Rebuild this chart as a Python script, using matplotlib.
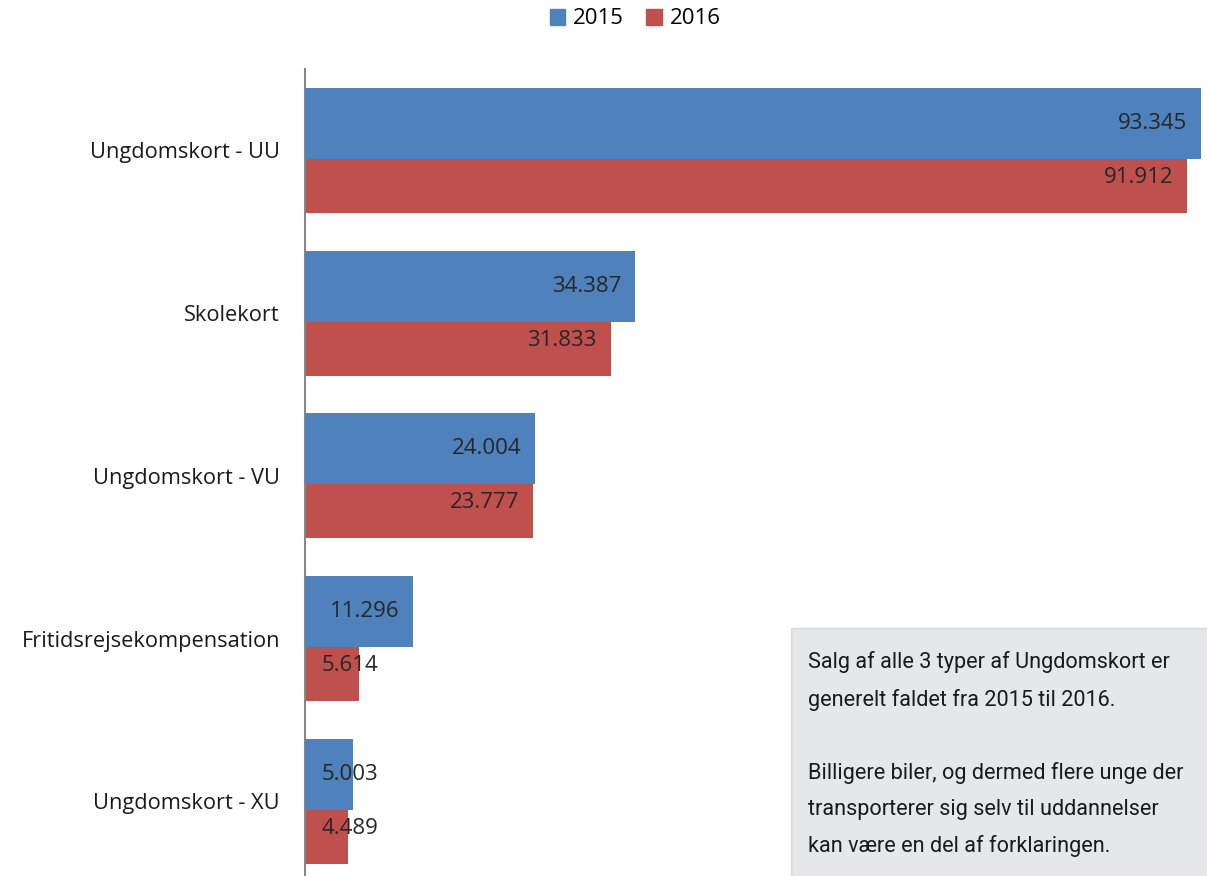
import matplotlib.pyplot as plt
from matplotlib.patches import Rectangle, Patch
import numpy as np

kategorier = ['Ungdomskort - UU', 'Skolekort', 'Ungdomskort - VU',
              'Fritidsrejsekompensation', 'Ungdomskort - XU']
salg_2015 = [93345, 34387, 24004, 11296, 5003]
salg_2016 = [91912, 31833, 23777, 5614, 4489]
aar = ['2015', '2016']

blaa = '#4F81BD'
roed = '#C0504D'
plt.rcParams['font.family'] = ['Open Sans', 'DejaVu Sans']

fig = plt.figure(figsize=(12.07, 8.76), dpi=100)
ax = fig.add_axes([305/1207, -0.0076, 902/1207, 0.9288])

y = np.arange(len(kategorier))
h = 0.436
d = 0.166
ax.barh(y + d, salg_2016, height=h, color=roed, zorder=2)
ax.barh(y - d, salg_2015, height=h, color=blaa, zorder=3)

xmax = 93345 * 902 / 896
ax.set_xlim(0, xmax)
ax.set_ylim(len(kategorier) - 0.5, -0.5)

# etiketter ved enden af søjlerne
px = xmax / 902
for i in range(len(kategorier)):
    for v, off in ((salg_2015[i], -d), (salg_2016[i], d)):
        tekst = f'{v:,}'.replace(',', '.')
        x = max(v - 14 * px, 73 * px)
        ax.text(x, i + off, tekst, ha='right', va='center', fontsize=16,
                color='#262626', zorder=4)

ax.set_yticks(y)
ax.set_yticklabels(kategorier, fontsize=15.7, color='#1a1a1a')
ax.tick_params(axis='y', length=0, pad=18)
ax.set_xticks([])
for s in ['top', 'right', 'bottom']:
    ax.spines[s].set_visible(False)
ax.spines['left'].set_color('#868686')
ax.spines['left'].set_linewidth(1.5)

fig.legend(handles=[Patch(color=blaa, label=aar[0]), Patch(color=roed, label=aar[1])],
           loc='center', bbox_to_anchor=(635/1207, 1 - 19/876), ncol=2, frameon=False,
           fontsize=16, handlelength=0.7, handleheight=0.7, columnspacing=1.0,
           handletextpad=0.35)

# tekstboks nederst til højre
fig.patches.append(Rectangle((791/1207, 0), 420/1207, 1 - 628/876,
                             transform=fig.transFigure, color='#dcdddf', zorder=5))
fig.patches.append(Rectangle((793/1207, 0), 420/1207, 1 - 630/876,
                             transform=fig.transFigure, color='#e6e7e8', zorder=6))
linjer = ['Salg af alle 3 typer af Ungdomskort er',
          'generelt faldet fra 2015 til 2016.',
          '',
          'Billigere biler, og dermed flere unge der',
          'transporterer sig selv til uddannelser',
          'kan være en del af forklaringen.']
fig.text(808/1207, 1 - 651/876, '\n'.join(linjer), ha='left', va='top',
         fontsize=15.6, family=['Roboto', 'DejaVu Sans'], color='#1a1a1a',
         linespacing=1.92, zorder=7)

fig.savefig('out.png', dpi=100)
